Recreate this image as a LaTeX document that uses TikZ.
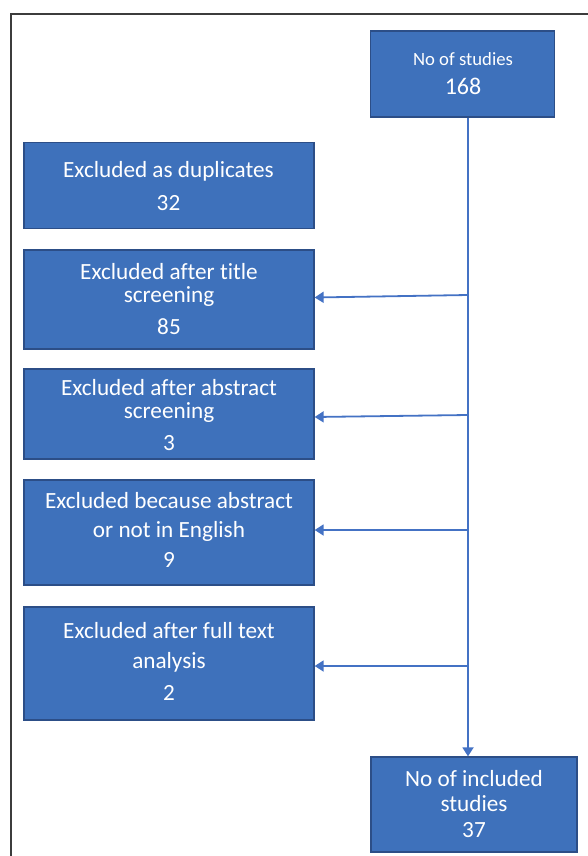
\documentclass[tikz,border=0pt]{standalone}
\usepackage{fontspec}
\setmainfont{Carlito}[Ligatures=NoCommon]
\usetikzlibrary{arrows.meta}
\definecolor{boxfill}{RGB}{62,113,187}
\definecolor{boxline}{RGB}{44,78,135}
\definecolor{arrowc}{RGB}{68,114,196}
\definecolor{framec}{RGB}{60,60,60}
\tikzset{
  flowbox/.style={draw=boxline, line width=1.3pt, fill=boxfill, rectangle, inner sep=0pt},
  boxtext/.style={text=white, anchor=base, inner sep=0pt, font=\fontsize{23.2}{26}\selectfont},
  smalltext/.style={text=white, anchor=base, inner sep=0pt, font=\fontsize{18.7}{22}\selectfont},
  bigtext/.style={text=white, anchor=base, inner sep=0pt, font=\fontsize{24}{26}\selectfont},
  conn/.style={draw=arrowc, line width=1.8pt},
  arr/.style={conn, -{Triangle[length=9pt,width=11pt]}}
}
\begin{document}
\begin{tikzpicture}[x=1pt,y=-1pt]
\useasboundingbox (0,0) rectangle (587,856);
% frame
\draw[framec, line width=1.6pt] (11,857) -- (11,14) -- (588,14);
% boxes
\node[flowbox, minimum width=184pt, minimum height=86pt] (top) at (462.5,74) {};
\node[flowbox, minimum width=290pt, minimum height=86pt] (dup) at (169,185.5) {};
\node[flowbox, minimum width=290pt, minimum height=99pt] (title) at (169,299.5) {};
\node[flowbox, minimum width=290pt, minimum height=90pt] (abs) at (169,414) {};
\node[flowbox, minimum width=290pt, minimum height=105pt] (eng) at (169,532.5) {};
\node[flowbox, minimum width=290pt, minimum height=113pt] (full) at (169,663.5) {};
\node[flowbox, minimum width=206pt, minimum height=95pt] (incl) at (474,804.5) {};
% texts
\node[smalltext] (topA) at (463,65.5) {No of studies};
\node[bigtext] (topB) at (463,94.5) {168};
\node[boxtext] (dupA) at (168.5,177.5) {Excluded as duplicates};
\node[boxtext] (dupB) at (168.5,210.5) {32};
\node[boxtext] (titA) at (169,279.5) {Excluded after title};
\node[boxtext] (titB) at (169,302.5) {screening};
\node[boxtext] (titC) at (169,334.5) {85};
\node[boxtext] (absA) at (169,395.5) {Excluded after abstract};
\node[boxtext] (absB) at (169,418.5) {screening};
\node[boxtext] (absC) at (169,450.5) {3};
\node[boxtext] (engA) at (169,508.5) {Excluded because abstract};
\node[boxtext] (engB) at (169,537.5) {or not in English};
\node[boxtext] (engC) at (169,567.5) {9};
\node[boxtext] (fulA) at (169,638.5) {Excluded after full text};
\node[boxtext] (fulB) at (169,668.5) {analysis};
\node[boxtext] (fulC) at (169,700.5) {2};
\node[boxtext] (incA) at (474,786.5) {No of included};
\node[boxtext] (incB) at (474,811.5) {studies};
\node[boxtext] (incC) at (474,837.5) {37};
% spine
\coordinate (s0) at (468,117);
\coordinate (s1) at (468,295);
\coordinate (s2) at (468,415);
\coordinate (s3) at (468,530);
\coordinate (s4) at (468,666);
\draw[arr] (top.south -| s0) -- (incl.north -| s0);
\draw[arr] (s1) -- ([yshift=-2.5pt]title.east |- s1);
\draw[arr] (s2) -- ([yshift=-2pt]abs.east |- s2);
\draw[arr] (s3) -- (eng.east |- s3);
\draw[arr] (s4) -- (full.east |- s4);
\end{tikzpicture}
\end{document}
